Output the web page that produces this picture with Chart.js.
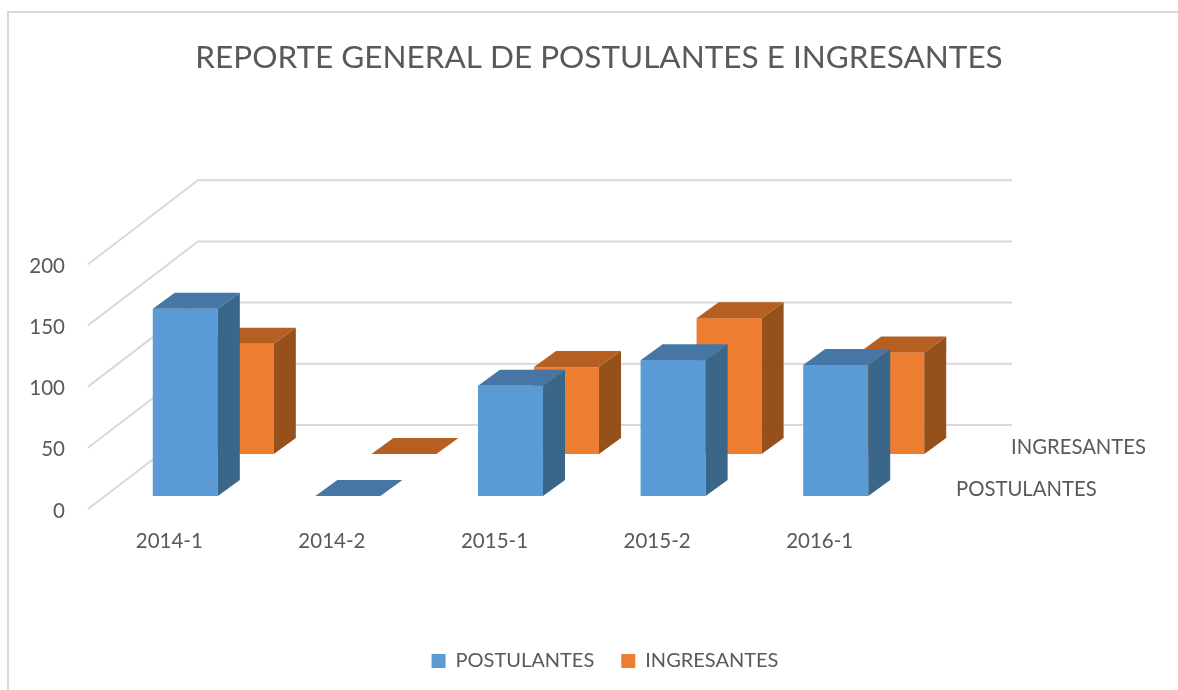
<!DOCTYPE html>
<html>
<head>
<meta charset="utf-8">
<style>html,body{margin:0;padding:0;background:#fff}canvas{display:block}</style>
<script src="https://cdn.jsdelivr.net/npm/chart.js@4"></script>
</head>
<body>
<canvas id="c" width="1178" height="690"></canvas>
<script>
const categories = ['2014-1', '2014-2', '2015-1', '2015-2', '2016-1'];
const postulantes = [153, 0, 90, 111, 107];
const ingresantes = [90, 0, 71, 111, 83];
const yTicks = [0, 50, 100, 150, 200];
const titleText = 'REPORTE GENERAL DE POSTULANTES E INGRESANTES';

const FONT = 'Lato, Carlito, Calibri, sans-serif';
const TEXT = '#595959';
const GRID = '#d9d9d9';
const depth = { dx: 22, dy: -16 };
const wall = { dx: 110, dy: -84, right: 1012 };
const styles = [
  { shift: [16, -13], top: '#4676a3', side: '#3a6689', depthLabel: [956, 489] },
  { shift: [72, -55], top: '#b55f22', side: '#95501b', depthLabel: [1011, 447] }
];

const poly = (ctx, pts, fill) => {
  ctx.beginPath();
  pts.forEach((p, i) => i ? ctx.lineTo(p[0], p[1]) : ctx.moveTo(p[0], p[1]));
  ctx.closePath();
  ctx.fillStyle = fill;
  ctx.fill();
};

const threeD = {
  id: 'threeD',
  afterLayout(chart) {
    const l = chart.legend;
    l.left += 6; l.right += 6; l.top -= 9; l.bottom -= 9;
  },
  beforeDraw(chart) {
    const ctx = chart.ctx;
    ctx.save();
    ctx.strokeStyle = GRID;
    ctx.lineWidth = 2;
    ctx.beginPath();
    ctx.moveTo(8, 690); ctx.lineTo(8, 12); ctx.lineTo(1178, 12);
    ctx.stroke();
    ctx.restore();
    chart.scales.y.getLabelItems().forEach(item => { item.options.translation[1] += 2; });
  },
  beforeDatasetsDraw(chart) {
    const ctx = chart.ctx, y = chart.scales.y, x0 = chart.scales.x.left;
    ctx.save();
    ctx.strokeStyle = GRID;
    ctx.lineWidth = 2;
    y.ticks.forEach(t => {
      const p = y.getPixelForValue(t.value);
      ctx.beginPath();
      ctx.moveTo(x0, p);
      ctx.lineTo(x0 + wall.dx, p + wall.dy);
      ctx.lineTo(wall.right, p + wall.dy);
      ctx.stroke();
    });
    ctx.font = '20.3px ' + FONT;
    ctx.fillStyle = TEXT;
    ctx.textBaseline = 'middle';
    chart.data.datasets.forEach((d, i) => {
      ctx.fillText(d.label, styles[i].depthLabel[0], styles[i].depthLabel[1]);
    });
    ctx.restore();
  },
  beforeDatasetDraw(chart, args) {
    const ctx = chart.ctx, s = styles[args.index];
    const ds = chart.data.datasets[args.index];
    ctx.save();
    args.meta.data.forEach(bar => {
      const p = bar.getProps(['x', 'y', 'base', 'width']);
      const l = p.x - p.width / 2 + s.shift[0], r = l + p.width;
      const t = p.y + s.shift[1], b = p.base + s.shift[1];
      if (b > t) {
        ctx.fillStyle = ds.backgroundColor;
        ctx.fillRect(l, t, p.width, b - t);
        poly(ctx, [[r, t], [r + depth.dx, t + depth.dy], [r + depth.dx, b + depth.dy], [r, b]], s.side);
      }
      poly(ctx, [[l, t], [l + depth.dx, t + depth.dy], [r + depth.dx, t + depth.dy], [r, t]], s.top);
    });
    ctx.restore();
    return false;
  }
};

new Chart(document.getElementById('c'), {
  type: 'bar',
  data: {
    labels: categories,
    datasets: [
      { label: 'POSTULANTES', data: postulantes, backgroundColor: '#5b9bd5', borderWidth: 0 },
      { label: 'INGRESANTES', data: ingresantes, backgroundColor: '#ed7d31', borderWidth: 0 }
    ]
  },
  plugins: [threeD],
  options: {
    responsive: false,
    animation: false,
    layout: { padding: { left: 20, right: 0, top: 0, bottom: 0 } },
    datasets: { bar: { grouped: false, categoryPercentage: 0.4, barPercentage: 1 } },
    plugins: {
      tooltip: { enabled: false },
      title: {
        display: true,
        text: titleText,
        color: TEXT,
        font: { family: FONT, size: 31.5, weight: 'normal' },
        padding: { top: 39, bottom: 187.4 }
      },
      legend: {
        position: 'bottom',
        labels: {
          boxWidth: 14, boxHeight: 14, padding: 27,
          color: TEXT,
          font: { family: FONT, size: 20 }
        }
      }
    },
    scales: {
      x: {
        grid: { display: false },
        border: { display: false },
        ticks: { color: TEXT, padding: 12, maxRotation: 0, font: { family: FONT, size: 20.5 } },
        afterFit: s => { s.height = 124; }
      },
      y: {
        min: 0, max: 200,
        afterBuildTicks: s => { s.ticks = yTicks.map(v => ({ value: v })); },
        grid: { display: false },
        border: { display: false },
        ticks: { color: TEXT, padding: 15, font: { family: FONT, size: 20.5 } },
        afterFit: s => { s.width = 68; }
      },
      spacer: {
        position: 'right',
        grid: { display: false },
        border: { display: false },
        ticks: { display: false },
        afterFit: s => { s.width = 277; }
      }
    }
  }
});
</script>
</body>
</html>
